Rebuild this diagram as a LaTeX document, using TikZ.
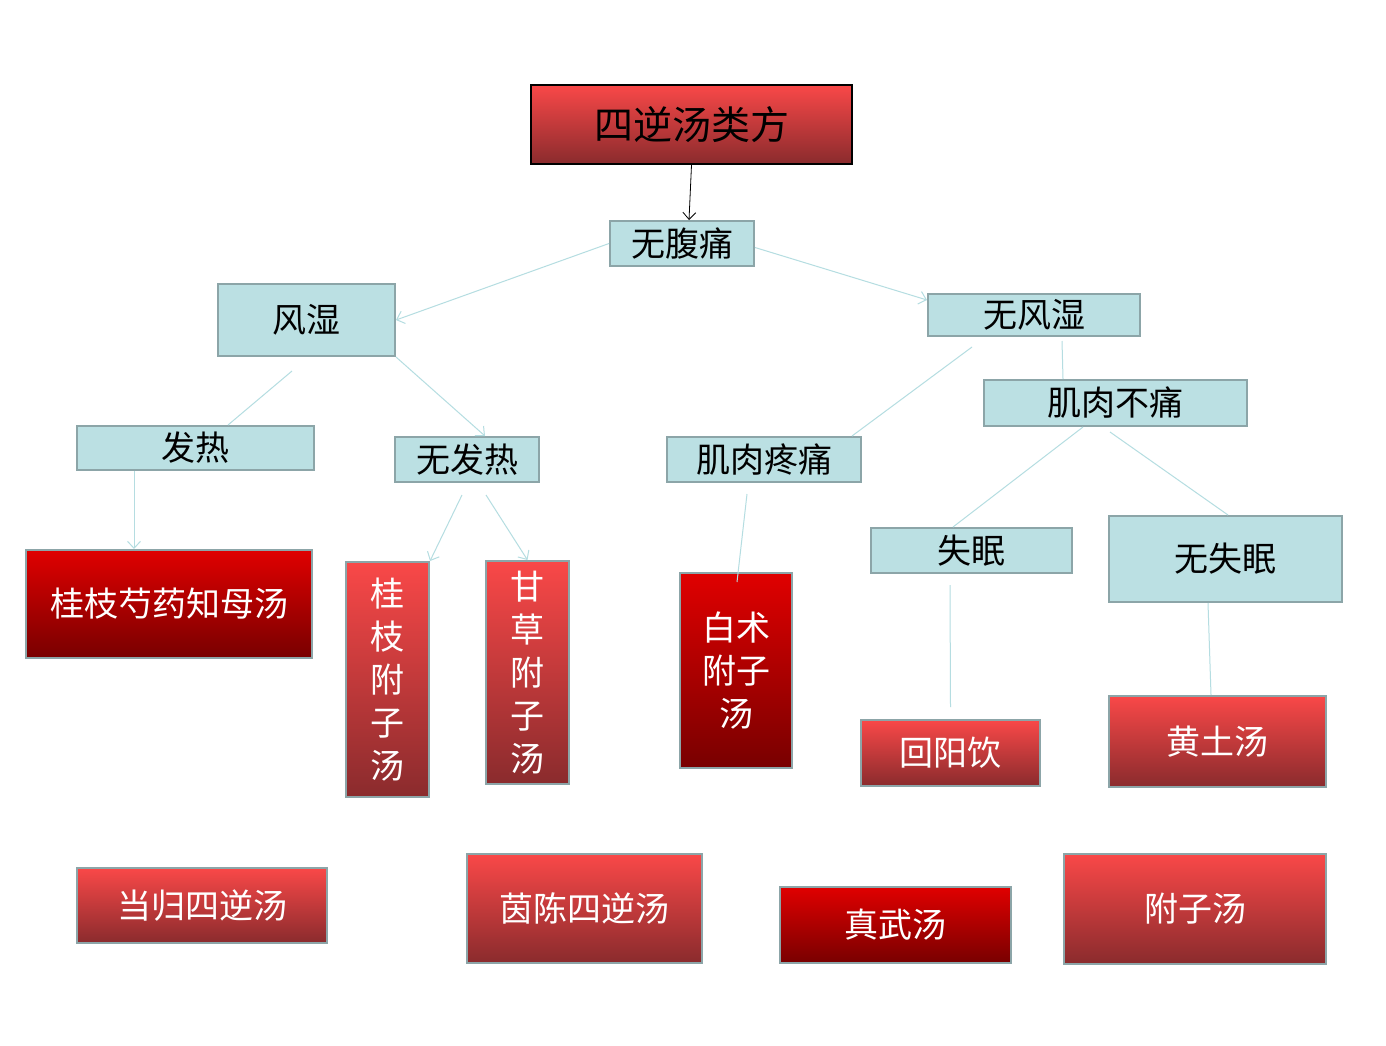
\documentclass[tikz,border=0pt]{standalone}
\usepackage{fontspec}
\setmainfont{Noto Sans CJK SC}
\usetikzlibrary{arrows.meta}
\definecolor{condfill}{HTML}{BBE0E3}
\definecolor{condline}{HTML}{8CA5A8}
\definecolor{linkcol}{HTML}{B5DDE1}
\definecolor{lighttop}{HTML}{F94848}
\definecolor{lightbot}{HTML}{8A2B2D}
\definecolor{darktop}{HTML}{E00000}
\definecolor{darkbot}{HTML}{780000}

\begin{document}
\begin{tikzpicture}[x=1pt, y=-1pt,
  box/.style 2 args={minimum width=#1pt, minimum height=#2pt},
  cond/.style={draw=condline, line width=2pt, fill=condfill, inner sep=0pt,
    font=\fontsize{34}{40}\selectfont},
  redlight/.style={draw=condline, line width=2pt, top color=lighttop,
    bottom color=lightbot, text=white, inner sep=0pt, align=center,
    font=\fontsize{34}{43}\selectfont},
  reddark/.style={redlight, top color=darktop, bottom color=darkbot},
  link/.style={linkcol, line width=1pt},
  arrowlink/.style={link, -{Straight Barb[length=7pt,width=13pt]}}]
  \fill[white] (0,0) rectangle (1386,1045);
  \useasboundingbox (0,0) rectangle (1386,1045);

  % heading
  \node[draw=black, line width=2pt, top color=lighttop, bottom color=lightbot,
    inner sep=0pt, font=\fontsize{39}{45}\selectfont, box={321}{79}]
    (leifang) at (691.5,124.5) {四逆汤类方};

  % conditions
  \node[cond, box={144}{45}] (wufutong) at (682,243.5) {无腹痛};
  \node[cond, box={177}{72}] (fengshi) at (306.5,320) {风湿};
  \node[cond, box={212}{42}] (wufengshi) at (1034,315) {无风湿};
  \node[cond, box={263}{46}] (butong) at (1115.5,403) {肌肉不痛};
  \node[cond, box={237}{44}] (fare) at (195.5,448) {发热};
  \node[cond, box={144}{45}] (wufare) at (467,459.5) {无发热};
  \node[cond, box={194}{45}] (tengtong) at (764,459.5) {肌肉疼痛};
  \node[cond, box={201}{45}] (shimian) at (971.5,550.5) {失眠};
  \node[cond, box={233}{86}] (wushimian) at (1225.5,559) {无失眠};

  % recipes
  \node[reddark, box={286}{108}] (shaoyao) at (169,604) {桂枝芍药知母汤};
  \node[redlight, box={83}{235}] (guizhi) at (387.5,679.5) {桂\\枝\\附\\子\\汤};
  \node[redlight, box={83}{223}] (gancao) at (527.5,672.5) {甘\\草\\附\\子\\汤};
  \node[reddark, box={112}{195}] (baizhu) at (736,670.5) {白术\\附子\\汤};
  \node[redlight, box={179}{66}] (huiyang) at (950.5,753) {回阳饮};
  \node[redlight, box={217}{91}] (huangtu) at (1217.5,741.5) {黄土汤};
  \node[redlight, box={250}{75}] (danggui) at (202,905.5) {当归四逆汤};
  \node[redlight, box={235}{109}] (yinchen) at (584.5,908.5) {茵陈四逆汤};
  \node[reddark, box={231}{76}] (zhenwu) at (895.5,925) {真武汤};
  \node[redlight, box={262}{110}] (fuzi) at (1195,909) {附子汤};

  % connectors
  \draw[line width=0.8pt, -{Straight Barb[length=7pt,width=13pt]}]
    (leifang.south) -- ([xshift=7pt]wufutong.north);
  \draw[arrowlink] (wufutong.west) -- (fengshi.east);
  \draw[arrowlink] ([yshift=-4pt]wufutong.east) -- ([yshift=15pt]wufengshi.west);
  \draw[link] ([xshift=-14.5pt, yshift=-14pt]fengshi.south) -- ([xshift=32.5pt]fare.north);
  \draw[arrowlink] (fengshi.south east) -- ([xshift=18pt]wufare.north);
  \draw[arrowlink] ([xshift=-61.5pt]fare.south) -- ([xshift=-35pt]shaoyao.north);
  \draw[arrowlink] ([xshift=-5pt, yshift=-12pt]wufare.south) -- (guizhi.north east);
  \draw[arrowlink] ([xshift=19pt, yshift=-12pt]wufare.south) -- (gancao.north);
  \draw[link] ([xshift=-62pt, yshift=-10pt]wufengshi.south) -- ([xshift=-10pt]tengtong.north east);
  \draw[link] ([xshift=28pt, yshift=-4pt]wufengshi.south) -- ([xshift=-52.5pt]butong.north);
  \draw[link] ([xshift=-17pt, yshift=-11pt]tengtong.south) -- ([xshift=1pt, yshift=-10pt]baizhu.north);
  \draw[link] ([xshift=-32.5pt]butong.south) -- ([xshift=-18.5pt]shimian.north);
  \draw[link] ([xshift=-5.5pt, yshift=-5pt]butong.south) -- ([xshift=2.5pt]wushimian.north);
  \draw[link] ([xshift=-21.5pt, yshift=-11pt]shimian.south) -- ([yshift=12pt]huiyang.north);
  \draw[link] ([xshift=-17.5pt]wushimian.south) -- ([xshift=-6.5pt]huangtu.north);
\end{tikzpicture}
\end{document}
